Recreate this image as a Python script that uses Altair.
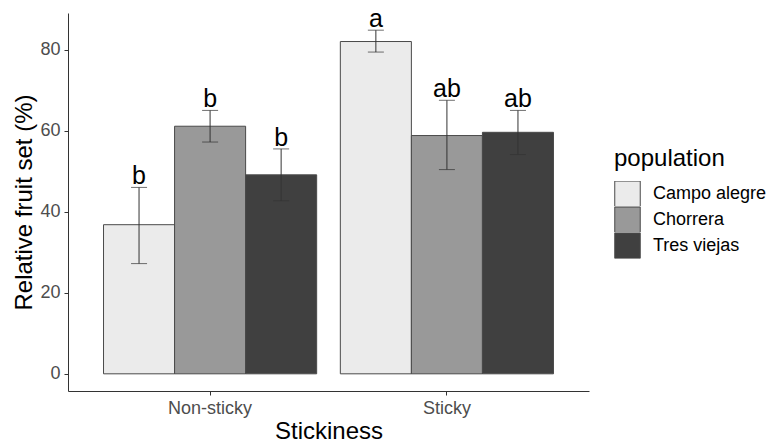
import altair as alt
import pandas as pd

stickiness = ["Non-sticky", "Non-sticky", "Non-sticky", "Sticky", "Sticky", "Sticky"]
population = ["Campo alegre", "Chorrera", "Tres viejas", "Campo alegre", "Chorrera", "Tres viejas"]
mean_set = [36.8, 61.1, 49.1, 82.0, 58.8, 59.6]
err_low = [27.2, 57.2, 42.7, 79.4, 50.4, 54.1]
err_high = [46.0, 65.0, 55.5, 84.8, 67.5, 65.0]
letters = ["b", "b", "b", "a", "ab", "ab"]

pop_order = ["Campo alegre", "Chorrera", "Tres viejas"]
pop_colors = ["#ebebeb", "#999999", "#404040"]

df = pd.DataFrame({
    "Stickiness": stickiness,
    "population": population,
    "mean": mean_set,
    "lo": err_low,
    "hi": err_high,
    "letter": letters,
    "base": [0] * 6,
})

FONT = "Liberation Sans"

x_enc = alt.X("Stickiness:N", sort=["Non-sticky", "Sticky"],
              scale=alt.Scale(paddingInner=0.1, paddingOuter=0.15),
              axis=alt.Axis(title="Stickiness", labelAngle=0, labelFontSize=18,
                            labelColor="#4d4d4d", labelFont=FONT, titleFont=FONT,
                            titleFontSize=24, titleFontWeight="normal", titleColor="#000000",
                            domainColor="#333333", tickColor="#333333", tickSize=4,
                            labelPadding=4, titlePadding=2, grid=False))
xoff = alt.XOffset("population:N", sort=pop_order, scale=alt.Scale(paddingInner=0, paddingOuter=0))
y_scale = alt.Scale(domain=[-4.24, 89.04], nice=False, zero=False)

bars = alt.Chart(df).mark_bar(stroke="#4a4a4a", strokeWidth=1).encode(
    x=x_enc,
    xOffset=xoff,
    y=alt.Y("mean:Q", scale=y_scale,
            axis=alt.Axis(title="Relative fruit set (%)", values=[0, 20, 40, 60, 80],
                          labelFontSize=18, labelColor="#4d4d4d", labelFont=FONT,
                          titleFont=FONT, titleFontSize=24, titleFontWeight="normal",
                          titleColor="#000000", domainColor="#333333", tickColor="#333333",
                          tickSize=4, labelPadding=4, titlePadding=3, grid=False)),
    y2="base:Q",
    fill=alt.Fill("population:N", sort=pop_order,
                  scale=alt.Scale(domain=pop_order, range=pop_colors),
                  legend=alt.Legend(title="population", orient="none", legendX=546, legendY=134,
                                    titleFontSize=24, titleFont=FONT, titleFontWeight="normal",
                                    titleColor="#000000", titlePadding=10,
                                    labelFontSize=18, labelFont=FONT, labelColor="#000000",
                                    labelOffset=12, symbolType="square", symbolSize=650,
                                    symbolStrokeColor="#4a4a4a", symbolStrokeWidth=1,
                                    clipHeight=25.6, rowPadding=0, padding=0)),
)

rules = alt.Chart(df).mark_rule(color="#333333", strokeWidth=1).encode(
    x=x_enc, xOffset=xoff, y=alt.Y("lo:Q", scale=y_scale), y2="hi:Q"
)
caps_hi = alt.Chart(df).mark_tick(color="#333333", thickness=1, size=16, orient="horizontal").encode(
    x=x_enc, xOffset=xoff, y=alt.Y("hi:Q", scale=y_scale)
)
caps_lo = alt.Chart(df).mark_tick(color="#333333", thickness=1, size=16, orient="horizontal").encode(
    x=x_enc, xOffset=xoff, y=alt.Y("lo:Q", scale=y_scale)
)
labels = alt.Chart(df).mark_text(fontSize=25, font=FONT, color="#000000",
                                 baseline="alphabetic", dy=-3).encode(
    x=x_enc, xOffset=xoff, y=alt.Y("hi:Q", scale=y_scale), text="letter:N"
)

chart = alt.layer(bars, rules, caps_hi, caps_lo, labels).properties(
    width=521, height=378,
    autosize=alt.AutoSizeParams(type="none"),
    padding={"left": 68, "top": 13, "right": 180, "bottom": 53},
    background="#ffffff",
).configure_view(stroke=None)

chart.save("out.html", embed_options={"renderer": "svg", "actions": False})
